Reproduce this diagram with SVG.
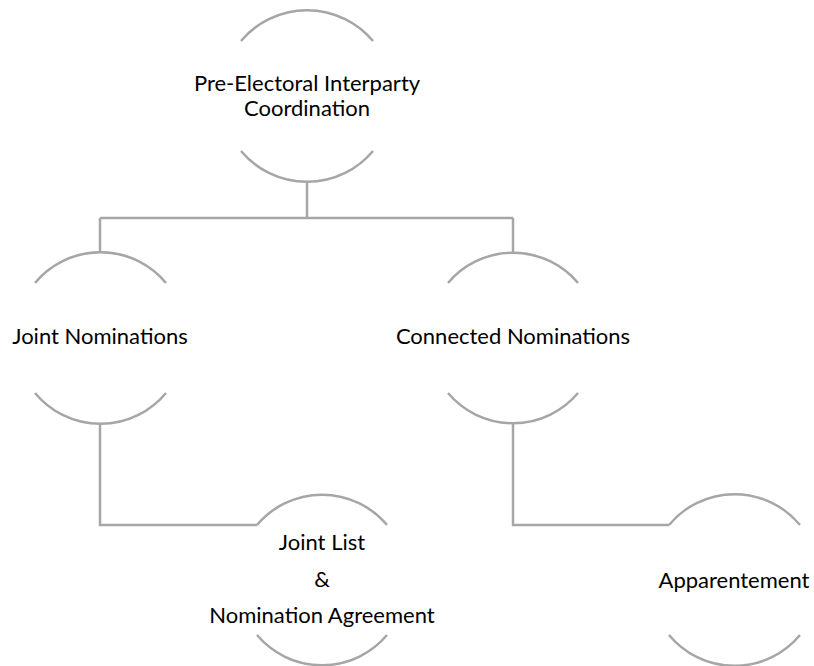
<svg xmlns="http://www.w3.org/2000/svg" width="814" height="666" viewBox="0 0 814 666">
<style>
.arc{fill:none;stroke:#a6a6a6;stroke-width:2.5}
.con{fill:none;stroke:#a6a6a6;stroke-width:2.5}
text{font-family:Lato,"Open Sans",sans-serif;font-size:22px;fill:#000;text-anchor:middle}
</style>
<rect width="814" height="666" fill="#fff"/>
<g id="connectors">
<path class="con" d="M307 182V218M100 218H513M100 218V253M513 218V253"/>
<path class="con" d="M100 423V525H257"/>
<path class="con" d="M513 423V525H669"/>
</g>
<g id="n-root">
<path class="arc" d="M241 41A86 86 0 0 1 373 41"/>
<path class="arc" d="M241 151A86 86 0 0 0 373 151"/>
<text x="307" y="91">Pre-Electoral Interparty</text>
<text x="307" y="116">Coordination</text>
</g>
<g id="n-joint">
<path class="arc" d="M35 283A85 85 0 0 1 166 283"/>
<path class="arc" d="M35 393A85 85 0 0 0 166 393"/>
<text x="100" y="344">Joint Nominations</text>
</g>
<g id="n-connected">
<path class="arc" d="M448 283A85 85 0 0 1 578 283"/>
<path class="arc" d="M448 393A85 85 0 0 0 578 393"/>
<text x="513" y="344">Connected Nominations</text>
</g>
<g id="n-jointlist">
<path class="arc" d="M257 525A85 85 0 0 1 387 525"/>
<path class="arc" d="M257 635A85 85 0 0 0 387 635"/>
<text x="322" y="550">Joint List</text>
<text x="322" y="587">&amp;</text>
<text x="322" y="623">Nomination Agreement</text>
</g>
<g id="n-apparentement">
<path class="arc" d="M669 525A85 85 0 0 1 800 525"/>
<path class="arc" d="M669 635A85 85 0 0 0 800 635"/>
<text x="734" y="588">Apparentement</text>
</g>
</svg>
